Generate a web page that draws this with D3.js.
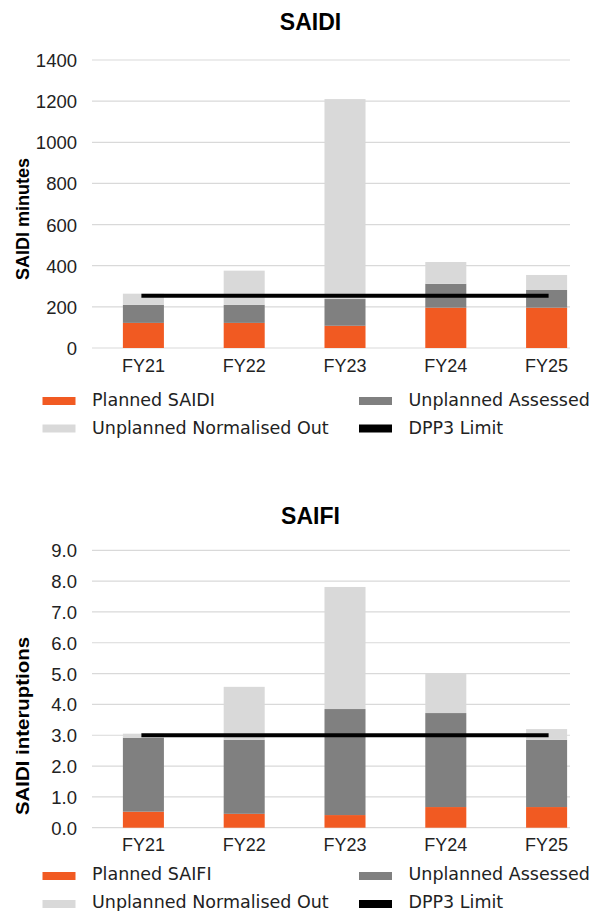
<!DOCTYPE html>
<html>
<head>
<meta charset="utf-8">
<script src="https://cdn.jsdelivr.net/npm/d3@7"></script>
<style>
  html, body { margin: 0; padding: 0; background: #fff; }
  svg { display: block; font-family: "Liberation Sans", Arial, sans-serif; }
</style>
</head>
<body>
<svg id="chart" width="589" height="911"></svg>
<script>
// Financial years shown on both charts
const years = ["FY21", "FY22", "FY23", "FY24", "FY25"];

// SAIDI (minutes) components per year
const saidiPlanned     = [122, 122, 108, 196, 196];
const saidiAssessed    = [88, 88, 130, 116, 86];
const saidiNormalised  = [54, 166, 972, 106, 73];
const saidiLimit       = [254, 254, 254, 254, 254];
const saidiTicks       = [0, 200, 400, 600, 800, 1000, 1200, 1400];

// SAIFI (interruptions) components per year
const saifiPlanned     = [0.52, 0.45, 0.41, 0.67, 0.67];
const saifiAssessed    = [2.40, 2.40, 3.44, 3.05, 2.18];
const saifiNormalised  = [0.13, 1.72, 3.96, 1.27, 0.35];
const saifiLimit       = [3.0, 3.0, 3.0, 3.0, 3.0];
const saifiTicks       = [0, 1, 2, 3, 4, 5, 6, 7, 8, 9];

const colors = {
  planned: "#F15A22",
  assessed: "#808080",
  normalised: "#D9D9D9",
  limit: "#000000",
  grid: "#D9D9D9"
};

const svg = d3.select("#chart");

function drawPanel(cfg) {
  const g = svg.append("g");
  const x = d3.scaleBand()
    .domain(years)
    .range([93, 597])
    .paddingInner(0.593)
    .paddingOuter(0.593 / 2);
  const y = d3.scaleLinear().domain(cfg.domain).range([cfg.y0, cfg.y1]);

  // title
  g.append("text")
    .attr("x", 310.5).attr("y", cfg.titleY)
    .attr("text-anchor", "middle")
    .attr("font-weight", "bold")
    .attr("font-size", 23)
    .attr("fill", "#000")
    .text(cfg.title);

  // gridlines
  g.append("g").selectAll("line")
    .data(cfg.ticks).join("line")
    .attr("x1", 92).attr("x2", 570)
    .attr("y1", d => y(d)).attr("y2", d => y(d))
    .attr("stroke", colors.grid).attr("stroke-width", 1.2);

  // y axis labels
  const yAxis = d3.axisLeft(y).tickValues(cfg.ticks).tickFormat(cfg.fmt).tickSize(0).tickPadding(0);
  const ya = g.append("g").attr("transform", "translate(77,0)").call(yAxis);
  ya.select(".domain").remove();
  ya.selectAll("text")
    .attr("font-family", "Liberation Sans, Arial, sans-serif")
    .attr("font-size", 18.5).attr("fill", "#222").attr("dy", "0.35em");

  // y axis title
  g.append("text")
    .attr("transform", `translate(29,${cfg.labelY}) rotate(-90)`)
    .attr("text-anchor", "middle")
    .attr("font-weight", "bold")
    .attr("font-size", 17.5)
    .attr("fill", "#000")
    .attr("textLength", cfg.labelLen)
    .attr("lengthAdjust", "spacingAndGlyphs")
    .text(cfg.yLabel);

  // stacked bars
  const rows = years.map((yr, i) => ({
    year: yr,
    planned: cfg.planned[i],
    assessed: cfg.assessed[i],
    normalised: cfg.normalised[i]
  }));
  const keys = ["planned", "assessed", "normalised"];
  const stacked = d3.stack().keys(keys)(rows);
  g.append("g").selectAll("g")
    .data(stacked).join("g")
    .attr("fill", d => colors[d.key])
    .selectAll("rect")
    .data(d => d).join("rect")
    .attr("x", d => x(d.data.year))
    .attr("width", x.bandwidth())
    .attr("y", d => y(d[1]))
    .attr("height", d => y(d[0]) - y(d[1]));

  // limit line
  const line = d3.line()
    .x((d, i) => x(years[i]) + x.bandwidth() / 2)
    .y(d => y(d));
  g.append("path")
    .datum(cfg.limit)
    .attr("d", line)
    .attr("fill", "none")
    .attr("stroke", colors.limit)
    .attr("stroke-width", 4)
    .attr("stroke-linecap", "square");

  // x axis labels
  const xa = g.append("g")
    .attr("transform", `translate(0,${cfg.xLabelY})`)
    .call(d3.axisBottom(x).tickSize(0).tickPadding(0));
  xa.select(".domain").remove();
  xa.selectAll("text")
    .attr("font-family", "Liberation Sans, Arial, sans-serif")
    .attr("font-size", 18).attr("fill", "#222").attr("dy", 0);

  // legend
  const legend = [
    { label: cfg.plannedLabel, color: colors.planned, col: 0, row: 0 },
    { label: "Unplanned Assessed", color: colors.assessed, col: 1, row: 0 },
    { label: "Unplanned Normalised Out", color: colors.normalised, col: 0, row: 1 },
    { label: "DPP3 Limit", color: colors.limit, col: 1, row: 1 }
  ];
  const colX = [42.5, 359];
  const lg = g.append("g").selectAll("g").data(legend).join("g")
    .attr("transform", d => `translate(${colX[d.col]},${cfg.legendY + d.row * cfg.legendGap})`);
  lg.append("rect")
    .attr("x", 0).attr("y", cfg.swatchY).attr("width", 33).attr("height", 8)
    .attr("fill", d => d.color);
  lg.append("text")
    .attr("x", 49.5).attr("y", 0)
    .attr("font-family", "DejaVu Sans, sans-serif")
    .attr("font-size", 17.5).attr("fill", "#222")
    .text(d => d.label);
}

drawPanel({
  title: "SAIDI", titleY: 30,
  domain: [0, 1400], y0: 348, y1: 60,
  ticks: saidiTicks, fmt: d3.format("d"),
  yLabel: "SAIDI minutes", labelY: 219, labelLen: 122,
  planned: saidiPlanned, assessed: saidiAssessed, normalised: saidiNormalised,
  limit: saidiLimit,
  xLabelY: 372,
  plannedLabel: "Planned SAIDI",
  legendY: 406, legendGap: 27.5, swatchY: -9
});

drawPanel({
  title: "SAIFI", titleY: 524,
  domain: [0, 9], y0: 827.7, y1: 550.3,
  ticks: saifiTicks, fmt: d3.format(".1f"),
  yLabel: "SAIDI interuptions", labelY: 726, labelLen: 178,
  planned: saifiPlanned, assessed: saifiAssessed, normalised: saifiNormalised,
  limit: saifiLimit,
  xLabelY: 851,
  plannedLabel: "Planned SAIFI",
  legendY: 880, legendGap: 28, swatchY: -8
});
</script>
</body>
</html>
